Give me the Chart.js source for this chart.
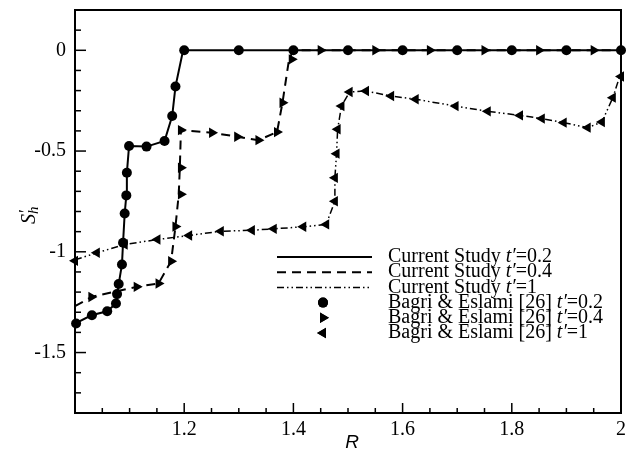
<!DOCTYPE html>
<html>
<head>
<meta charset="utf-8">
<script src="https://cdn.jsdelivr.net/npm/chart.js@4.4.1/dist/chart.umd.min.js"></script>
<style>
  html, body { margin: 0; padding: 0; background: #fff; }
</style>
</head>
<body>
<canvas id="myChart" width="627" height="453"></canvas>
<script>
// current study, t' = 0.2 / 0.4 / 1 (lines)
const curR02 = [1.0, 1.03, 1.059, 1.075, 1.08, 1.086, 1.088, 1.091, 1.094, 1.095, 1.099, 1.131, 1.164, 1.178, 1.184, 1.198, 2.0];
const curS02 = [-1.356, -1.315, -1.295, -1.257, -1.16, -1.063, -0.955, -0.81, -0.72, -0.608, -0.475, -0.478, -0.45, -0.326, -0.18, 0, 0];

const curR04 = [1.0, 1.03, 1.113, 1.153, 1.176, 1.184, 1.19, 1.192, 1.194, 1.251, 1.297, 1.336, 1.37, 1.38, 1.392, 1.4, 2.0];
const curS04 = [-1.27, -1.224, -1.174, -1.157, -1.047, -0.875, -0.715, -0.583, -0.396, -0.409, -0.429, -0.446, -0.406, -0.26, -0.045, 0, 0];

const curR1 = [1.0, 1.04, 1.091, 1.151, 1.209, 1.267, 1.324, 1.364, 1.418, 1.46, 1.476, 1.476, 1.479, 1.481, 1.488, 1.503, 1.533, 1.579, 1.624, 1.697, 1.756, 1.815, 1.855, 1.895, 1.939, 1.965, 1.985, 2.0];
const curS1 = [-1.04, -1.005, -0.964, -0.939, -0.919, -0.898, -0.893, -0.886, -0.876, -0.864, -0.749, -0.633, -0.513, -0.392, -0.277, -0.207, -0.202, -0.227, -0.243, -0.277, -0.303, -0.323, -0.339, -0.359, -0.384, -0.356, -0.235, -0.11];

// Bagri & Eslami [26] (markers)
const refR02 = [1.002, 1.031, 1.059, 1.075, 1.077, 1.08, 1.086, 1.088, 1.091, 1.094, 1.095, 1.099, 1.131, 1.164, 1.178, 1.184, 1.2, 1.3, 1.4, 1.5, 1.6, 1.7, 1.8, 1.9, 2.0];
const refS02 = [-1.356, -1.315, -1.295, -1.257, -1.21, -1.16, -1.063, -0.955, -0.81, -0.72, -0.608, -0.475, -0.478, -0.45, -0.326, -0.18, 0, 0, 0, 0, 0, 0, 0, 0, 0];

const refR04 = [1.03, 1.113, 1.153, 1.176, 1.184, 1.194, 1.194, 1.194, 1.251, 1.297, 1.336, 1.37, 1.38, 1.397, 1.45, 1.55, 1.65, 1.75, 1.85, 1.95];
const refS04 = [-1.224, -1.174, -1.157, -1.047, -0.875, -0.715, -0.583, -0.396, -0.409, -0.429, -0.446, -0.406, -0.26, -0.045, 0, 0, 0, 0, 0, 0];

const refR1 = [1.0, 1.04, 1.091, 1.151, 1.209, 1.267, 1.324, 1.364, 1.418, 1.46, 1.476, 1.476, 1.479, 1.481, 1.488, 1.503, 1.533, 1.579, 1.624, 1.697, 1.756, 1.815, 1.855, 1.895, 1.939, 1.965, 1.985, 2.0];
const refS1 = [-1.045, -1.005, -0.964, -0.939, -0.919, -0.898, -0.893, -0.886, -0.876, -0.864, -0.749, -0.633, -0.513, -0.392, -0.277, -0.207, -0.202, -0.227, -0.243, -0.277, -0.303, -0.323, -0.339, -0.359, -0.384, -0.356, -0.235, -0.13];

// axis ticks with labels
const xTickValues = [1.2, 1.4, 1.6, 1.8, 2];
const xTickLabels = ['1.2', '1.4', '1.6', '1.8', '2'];
const yTickValues = [0, -0.5, -1, -1.5];
const yTickLabels = ['0', '-0.5', '-1', '-1.5'];

const legendLabels = [
  ['Current Study ', "t′", '=0.2'],
  ['Current Study ', "t′", '=0.4'],
  ['Current Study ', "t′", '=1'],
  ['Bagri & Eslami [26] ', "t′", '=0.2'],
  ['Bagri & Eslami [26] ', "t′", '=0.4'],
  ['Bagri & Eslami [26] ', "t′", '=1'],
];

const SERIF = '"Liberation Serif", "Times New Roman", serif';
const chart = document.getElementById('myChart');

const toPoints = (xs, ys) => xs.map((x, i) => ({ x, y: ys[i] }));

const findLabel = (values, labels, v) => {
  const i = values.findIndex((m) => Math.abs(m - v) < 1e-6);
  return i >= 0 ? labels[i] : '';
};

const makeTicks = (from, to, step) => {
  const ticks = [];
  const n = Math.round((to - from) / step);
  for (let i = 0; i <= n; i++) ticks.push({ value: +(from + i * step).toFixed(4) });
  return ticks;
};

const lineSet = (xs, ys, dash, width) => ({
  data: toPoints(xs, ys),
  showLine: true,
  borderColor: '#000',
  borderWidth: width,
  borderDash: dash,
  pointRadius: 0,
  fill: false,
});

const markerSet = (xs, ys, style, rotation, radius) => ({
  data: toPoints(xs, ys),
  showLine: false,
  pointStyle: style,
  rotation: rotation,
  pointRadius: radius,
  backgroundColor: '#000',
  borderColor: '#000',
  borderWidth: 0,
  clip: false,
});

const datasets = [
  markerSet(refR02, refS02, 'circle', 0, 5),
  markerSet(refR04, refS04, 'triangle', 90, 6),
  markerSet(refR1, refS1, 'triangle', -90, 6),
  lineSet(curR02, curS02, [], 2),
  lineSet(curR04, curS04, [9, 6], 2),
  lineSet(curR1, curS1, [7, 3, 1.5, 3, 1.5, 3], 1.5),
];

// frame, inward ticks, axis titles and the legend box
const decor = {
  id: 'decor',
  afterDraw(c) {
    const { ctx, chartArea: a, scales: { x, y } } = c;
    ctx.save();
    ctx.strokeStyle = '#000';
    ctx.fillStyle = '#000';

    ctx.lineWidth = 1.5;
    x.ticks.forEach((t) => {
      const px = x.getPixelForValue(t.value);
      const len = findLabel(xTickValues, xTickLabels, t.value) ? 10 : 5;
      ctx.beginPath();
      ctx.moveTo(px, a.bottom);
      ctx.lineTo(px, a.bottom - len);
      ctx.stroke();
    });
    y.ticks.forEach((t) => {
      const py = y.getPixelForValue(t.value);
      const len = findLabel(yTickValues, yTickLabels, t.value) ? 11 : 6;
      ctx.beginPath();
      ctx.moveTo(a.left, py);
      ctx.lineTo(a.left + len, py);
      ctx.stroke();
    });

    ctx.lineWidth = 2;
    ctx.strokeRect(a.left, a.top, a.right - a.left, a.bottom - a.top);

    // x title
    ctx.font = 'italic 19px "Liberation Sans", Arial, sans-serif';
    ctx.textAlign = 'center';
    ctx.textBaseline = 'alphabetic';
    ctx.fillText('R', 352, 448);

    // y title S'_h, rotated
    ctx.save();
    ctx.translate(35, 224);
    ctx.rotate(-Math.PI / 2);
    ctx.textAlign = 'left';
    ctx.font = 'italic 20px ' + SERIF;
    ctx.fillText('S', 0, 0);
    const sw = ctx.measureText('S').width;
    ctx.font = 'italic 15px ' + SERIF;
    ctx.fillText('h', sw, 3);
    ctx.font = '18px ' + SERIF;
    ctx.fillText('′', sw + 1, -3);
    ctx.restore();

    // legend
    const rowY = (i) => 257 + i * 15.2;
    const x0 = 277, x1 = 372, mx = 323, tx = 388;
    for (let i = 0; i < 6; i++) {
      const ds = c.data.datasets[i < 3 ? i + 3 : i - 3];
      const yy = rowY(i);
      if (i < 3) {
        ctx.lineWidth = ds.borderWidth;
        ctx.setLineDash(ds.borderDash);
        ctx.beginPath();
        ctx.moveTo(x0, yy);
        ctx.lineTo(x1, yy);
        ctx.stroke();
        ctx.setLineDash([]);
      } else {
        Chart.helpers.drawPoint(ctx, {
          pointStyle: ds.pointStyle,
          rotation: ds.rotation,
          radius: ds.pointRadius,
          borderWidth: 0,
        }, mx, yy);
        ctx.fill();
      }
      const [a1, a2, a3] = legendLabels[i];
      ctx.textBaseline = 'middle';
      ctx.textAlign = 'left';
      let px = tx;
      ctx.font = '20px ' + SERIF;
      ctx.fillText(a1, px, yy);
      px += ctx.measureText(a1).width;
      ctx.font = 'italic 20px ' + SERIF;
      ctx.fillText(a2, px, yy);
      px += ctx.measureText(a2).width;
      ctx.font = '20px ' + SERIF;
      ctx.fillText(a3, px, yy);
    }
    ctx.restore();
  },
};

const noPadding = (scale) => {
  scale.paddingLeft = 0;
  scale.paddingRight = 0;
  scale.paddingTop = 0;
  scale.paddingBottom = 0;
};

const config = {
  type: 'scatter',
  data: { datasets },
  options: {
    responsive: false,
    animation: false,
    layout: { padding: { top: 10, right: 2, left: 0, bottom: 0 } },
    plugins: { legend: { display: false }, tooltip: { enabled: false } },
    scales: {
      x: {
        type: 'linear',
        min: 1,
        max: 2,
        afterBuildTicks: (s) => { s.ticks = makeTicks(1, 2, 0.05); },
        afterFit: (s) => { s.height = 40; noPadding(s); },
        grid: { display: false, drawTicks: false },
        border: { display: false },
        ticks: {
          autoSkip: false,
          maxRotation: 0,
          padding: 5,
          color: '#000',
          font: { family: SERIF, size: 20 },
          callback: (v) => findLabel(xTickValues, xTickLabels, v),
        },
      },
      y: {
        type: 'linear',
        min: -1.8,
        max: 0.2,
        afterBuildTicks: (s) => { s.ticks = makeTicks(-1.8, 0.2, 0.1); },
        afterFit: (s) => { s.width = 75; noPadding(s); },
        grid: { display: false, drawTicks: false },
        border: { display: false },
        ticks: {
          autoSkip: false,
          padding: 9,
          color: '#000',
          font: { family: SERIF, size: 20 },
          callback: (v) => findLabel(yTickValues, yTickLabels, v),
        },
      },
    },
  },
  plugins: [decor],
};

const myChart = new Chart(chart, config);
</script>
</body>
</html>
